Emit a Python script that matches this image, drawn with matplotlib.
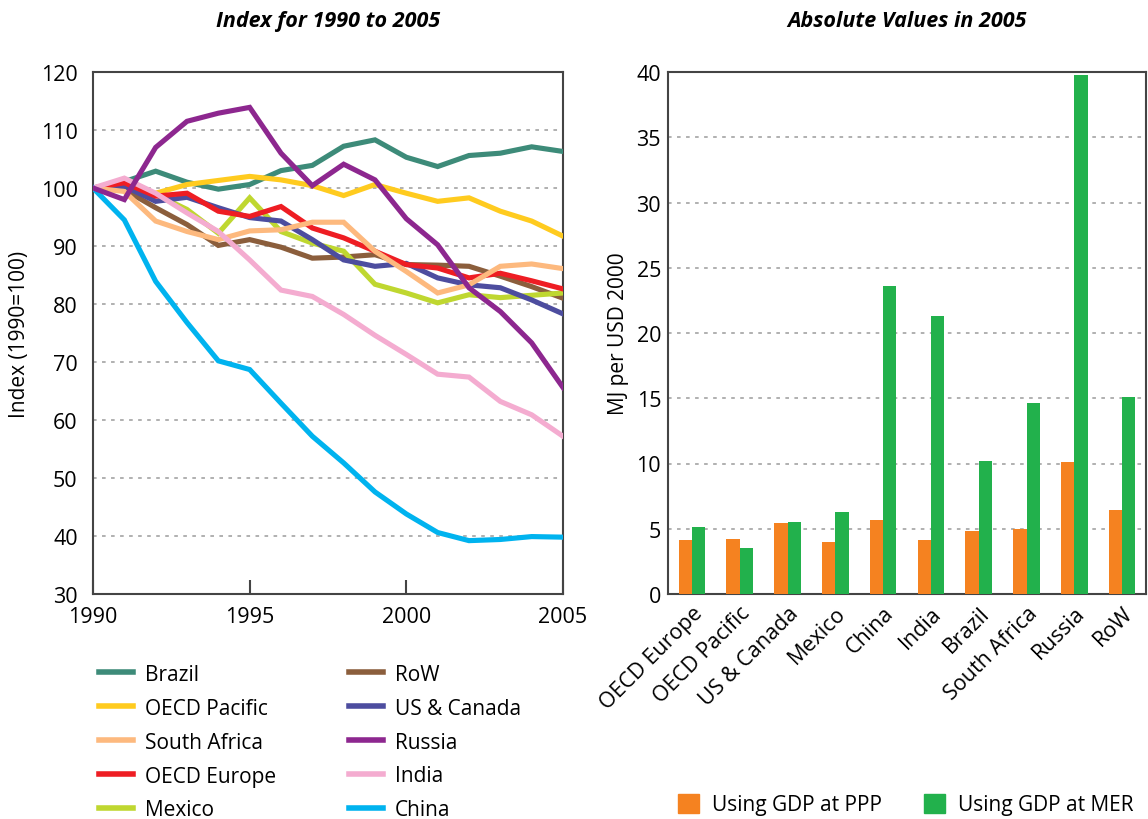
import matplotlib.pyplot as plt
import numpy as np
from matplotlib.patches import Patch
from matplotlib.lines import Line2D

plt.rcParams['font.family'] = ['Open Sans', 'DejaVu Sans']

years = list(range(1990, 2006))

brazil = [100, 101.1, 102.9, 101.0, 99.8, 100.6, 103.0, 103.9, 107.2, 108.3, 105.3, 103.7, 105.6, 106.0, 107.1, 106.3]
oecd_pacific = [100, 99.7, 99.1, 100.6, 101.3, 102.0, 101.4, 100.4, 98.7, 100.6, 99.1, 97.7, 98.3, 96.0, 94.3, 91.7]
south_africa = [100, 99.4, 94.3, 92.5, 91.1, 92.6, 92.8, 94.1, 94.1, 89.1, 85.6, 81.9, 83.3, 86.5, 86.9, 86.1]
oecd_europe = [100, 100.9, 98.6, 99.1, 96.0, 95.1, 96.8, 93.1, 91.4, 89.1, 86.8, 86.2, 84.5, 85.3, 84.0, 82.6]
mexico = [100, 100.3, 98.9, 96.3, 92.2, 98.3, 92.5, 90.5, 89.1, 83.4, 81.9, 80.2, 81.6, 81.1, 81.5, 81.9]
row = [100, 99.7, 96.6, 93.7, 90.1, 91.1, 89.8, 87.9, 88.1, 88.5, 86.8, 86.7, 86.5, 84.8, 83.0, 81.0]
us_canada = [100, 100.3, 97.7, 98.4, 96.6, 94.9, 94.3, 91.1, 87.6, 86.5, 87.0, 84.5, 83.3, 82.8, 80.7, 78.3]
russia = [100, 98.0, 107.0, 111.5, 112.9, 113.9, 106.0, 100.4, 104.1, 101.4, 94.7, 90.2, 82.8, 78.7, 73.3, 65.6]
india = [100, 101.7, 99.1, 95.7, 92.5, 87.6, 82.4, 81.3, 78.2, 74.6, 71.3, 67.9, 67.4, 63.2, 60.9, 57.2]
china = [100, 94.5, 83.9, 76.8, 70.2, 68.7, 62.9, 57.2, 52.6, 47.6, 43.8, 40.6, 39.2, 39.4, 39.9, 39.8]

left_names = ["Brazil", "OECD Pacific", "South Africa", "OECD Europe", "Mexico"]
right_names = ["RoW", "US & Canada", "Russia", "India", "China"]
series = {
    "Brazil": (brazil, "#3d8b79"),
    "OECD Pacific": (oecd_pacific, "#ffcb1f"),
    "South Africa": (south_africa, "#fdb97e"),
    "OECD Europe": (oecd_europe, "#ee1d23"),
    "Mexico": (mexico, "#bfd730"),
    "RoW": (row, "#8b5e3c"),
    "US & Canada": (us_canada, "#4d4d9f"),
    "Russia": (russia, "#8d278f"),
    "India": (india, "#f4acd0"),
    "China": (china, "#00b3ef"),
}

regions = ["OECD Europe", "OECD Pacific", "US & Canada", "Mexico", "China",
           "India", "Brazil", "South Africa", "Russia", "RoW"]
ppp = [4.1, 4.25, 5.45, 4.0, 5.7, 4.1, 4.85, 5.0, 10.1, 6.4]
mer = [5.1, 3.55, 5.55, 6.25, 23.6, 21.3, 10.2, 14.6, 39.8, 15.1]

fig = plt.figure(figsize=(11.48, 8.2), dpi=100)
W, H = 1148, 820
ax1 = fig.add_axes([93 / W, 1 - 595 / H, 470 / W, 522 / H])
ax2 = fig.add_axes([668 / W, 1 - 595 / H, 478 / W, 522 / H])

frame = "#444444"

# line chart
draw_order = ["Brazil", "OECD Pacific", "RoW", "Mexico", "US & Canada",
              "OECD Europe", "South Africa", "India", "China", "Russia"]
for name in draw_order:
    vals, col = series[name]
    ax1.plot(years, vals, color=col, lw=3.7, solid_joinstyle='miter', zorder=3)

ax1.set_xlim(1990, 2005)
ax1.set_ylim(30, 120)
ax1.set_yticks(range(30, 121, 10))
ax1.set_xticks([1990, 1995, 2000, 2005])
for y in range(40, 120, 10):
    ax1.axhline(y, color="#aaaaaa", lw=1.3, ls=(0, (2, 3)), zorder=1)
ax1.tick_params(axis='y', length=0, labelsize=15.5, pad=11)
ax1.tick_params(axis='x', direction='in', length=10, width=1.5, color=frame, labelsize=15.5, pad=9)
ax1.set_ylabel("Index (1990=100)", fontsize=15, labelpad=8)
ax1.set_title("Index for 1990 to 2005", fontsize=15.5, fontweight='bold', style='italic', pad=33)
for s in ax1.spines.values():
    s.set_color(frame)
    s.set_linewidth(1.5)

h_left = [Line2D([0], [0], color=series[n][1], lw=4) for n in left_names]
h_right = [Line2D([0], [0], color=series[n][1], lw=4) for n in right_names]
fig.legend(h_left, left_names, loc='upper left', bbox_to_anchor=(80 / W, 1 - 646 / H),
           frameon=False, fontsize=15, handlelength=1.65, handletextpad=0.55, labelspacing=0.62)
fig.legend(h_right, right_names, loc='upper left', bbox_to_anchor=(330 / W, 1 - 646 / H),
           frameon=False, fontsize=15, handlelength=1.65, handletextpad=0.55, labelspacing=0.62)

# bar chart
x = np.arange(len(regions))
bw = 0.28
ax2.bar(x - bw / 2, ppp, bw, color="#f58220", zorder=3)
ax2.bar(x + bw / 2, mer, bw, color="#22b14c", zorder=3)
ax2.set_xlim(-0.5, len(regions) - 0.5)
ax2.set_ylim(0, 40)
ax2.set_yticks(range(0, 41, 5))
for y in range(5, 40, 5):
    ax2.axhline(y, color="#aaaaaa", lw=1.3, ls=(0, (2, 3)), zorder=1)
ax2.set_xticks(x)
ax2.set_xticklabels(regions, rotation=45, ha='right', rotation_mode='anchor')
ax2.tick_params(axis='y', length=0, labelsize=15.5, pad=5)
ax2.tick_params(axis='x', length=0, labelsize=15.5, pad=6)
ax2.set_ylabel("MJ per USD 2000", fontsize=15, labelpad=5)
ax2.set_title("Absolute Values in 2005", fontsize=15.5, fontweight='bold', style='italic', pad=33)
for s in ax2.spines.values():
    s.set_color(frame)
    s.set_linewidth(1.5)

bar_handles = [Patch(color="#f58220"), Patch(color="#22b14c")]
fig.legend(bar_handles, ["Using GDP at PPP", "Using GDP at MER"], loc='upper left',
           bbox_to_anchor=(665 / W, 1 - 782 / H), ncol=2, frameon=False, fontsize=15,
           handlelength=1.05, handleheight=1.05, handletextpad=0.6, columnspacing=2.0,
           borderaxespad=0.2)

fig.savefig("out.png", dpi=100)
